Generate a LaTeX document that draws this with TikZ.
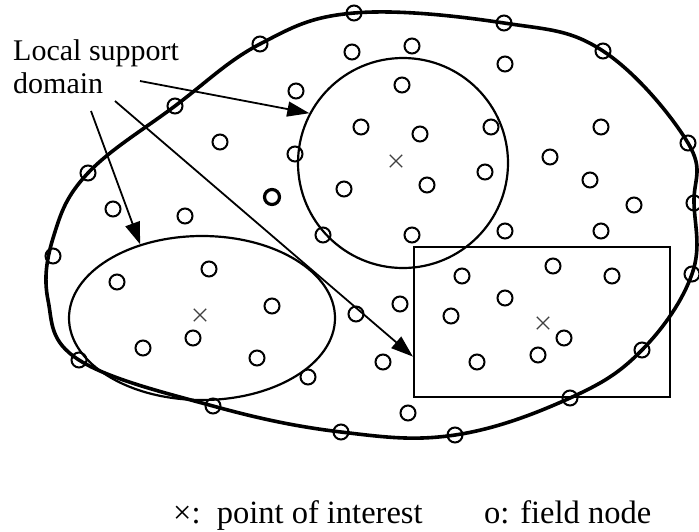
\documentclass[tikz,border=0pt]{standalone}
\usepackage{fontspec}
\setmainfont{Liberation Serif}
\usetikzlibrary{arrows.meta,shapes.geometric,shapes.misc}
\begin{document}
\begin{tikzpicture}[x=1pt,y=-1pt,
  boundary/.style={line width=3.6pt,line join=round},
  fnode/.style={circle,draw,line width=2pt,minimum size=15pt,inner sep=0pt},
  fnodebold/.style={fnode,line width=3.2pt},
  poi/.style={cross out,draw=black!75,line width=1.3pt,minimum size=11pt,inner sep=0pt},
  supportdom/.style={draw,line width=2.2pt,inner sep=0pt},
  pointer/.style={line width=1.8pt,-{Triangle[length=22pt,width=15pt]}},
  lbl/.style={font=\fontsize{30}{34}\selectfont,inner sep=0pt},
  leg/.style={font=\fontsize{32.5}{38}\selectfont,inner sep=0pt}]
\useasboundingbox (0,0) rectangle (699,531);

% global problem domain
\draw[boundary] plot[smooth cycle,tension=0.65] coordinates {
  (354,13) (504,23) (603,51) (688,143) (694,203) (692,274) (642,350)
  (570,398) (455,435) (341,432) (213,406) (79,360) (48,300) (54,235)
  (88,173) (175,106) (260,44)};

% local support domains
\node[supportdom,circle,minimum size=210pt] (dcirc) at (403,163) {};
\node[supportdom,ellipse,minimum width=266pt,minimum height=164pt] (dell) at (202,318) {};
\node[supportdom,rectangle,minimum width=256pt,minimum height=150pt] (drect) at (542,322) {};

% field nodes on the boundary
\foreach \p [count=\i] in {(354,13),(504,23),(603,51),(688,143),(694,203),(692,274),
  (642,350),(570,398),(455,435),(341,432),(213,406),(79,360),(53,256),(88,173),
  (175,106),(260,44)}
  \node[fnode] (b\i) at \p {};

% field nodes in the interior
\foreach \p [count=\i] in {(220,142),(113,209),(185,216),(352,52),(412,46),(296,91),
  (402,85),(295,154),(361,127),(420,134),(344,189),(427,185),(323,235),(412,235),
  (505,64),(601,127),(491,127),(485,172),(550,157),(590,180),(634,205),(505,231),
  (601,231),(117,282),(209,269),(193,338),(143,348),(272,306),(257,358),(308,377),
  (356,314),(400,304),(383,362),(408,413),(462,276),(451,316),(553,266),(612,276),
  (505,298),(564,338),(538,355),(477,362)}
  \node[fnode] (n\i) at \p {};
\node[fnodebold] (nb) at (272,197) {};

% points of interest
\node[poi] (x1) at (396,161) {};
\node[poi] (x2) at (200,315) {};
\node[poi] (x3) at (543,323) {};

% label and pointers
\node[lbl,anchor=base west] (t1) at (13,60) {Local support};
\node[lbl,anchor=base west] (t2) at (13,93) {domain};
\coordinate (s1) at (140,81);
\coordinate (s2) at (91,111);
\coordinate (s3) at (115,101);
\draw[pointer] (s1) -- (dcirc.152.7);
\draw[pointer] (s2) -- (dell.130.7);
\draw[pointer] (s3) -- (drect.195.7);

% legend
\node[leg,anchor=base west] (l1) at (173,523) {×:\ \ point of interest};
\node[leg,anchor=base west] (l2) at (484,523) {o: field node};
\end{tikzpicture}
\end{document}
